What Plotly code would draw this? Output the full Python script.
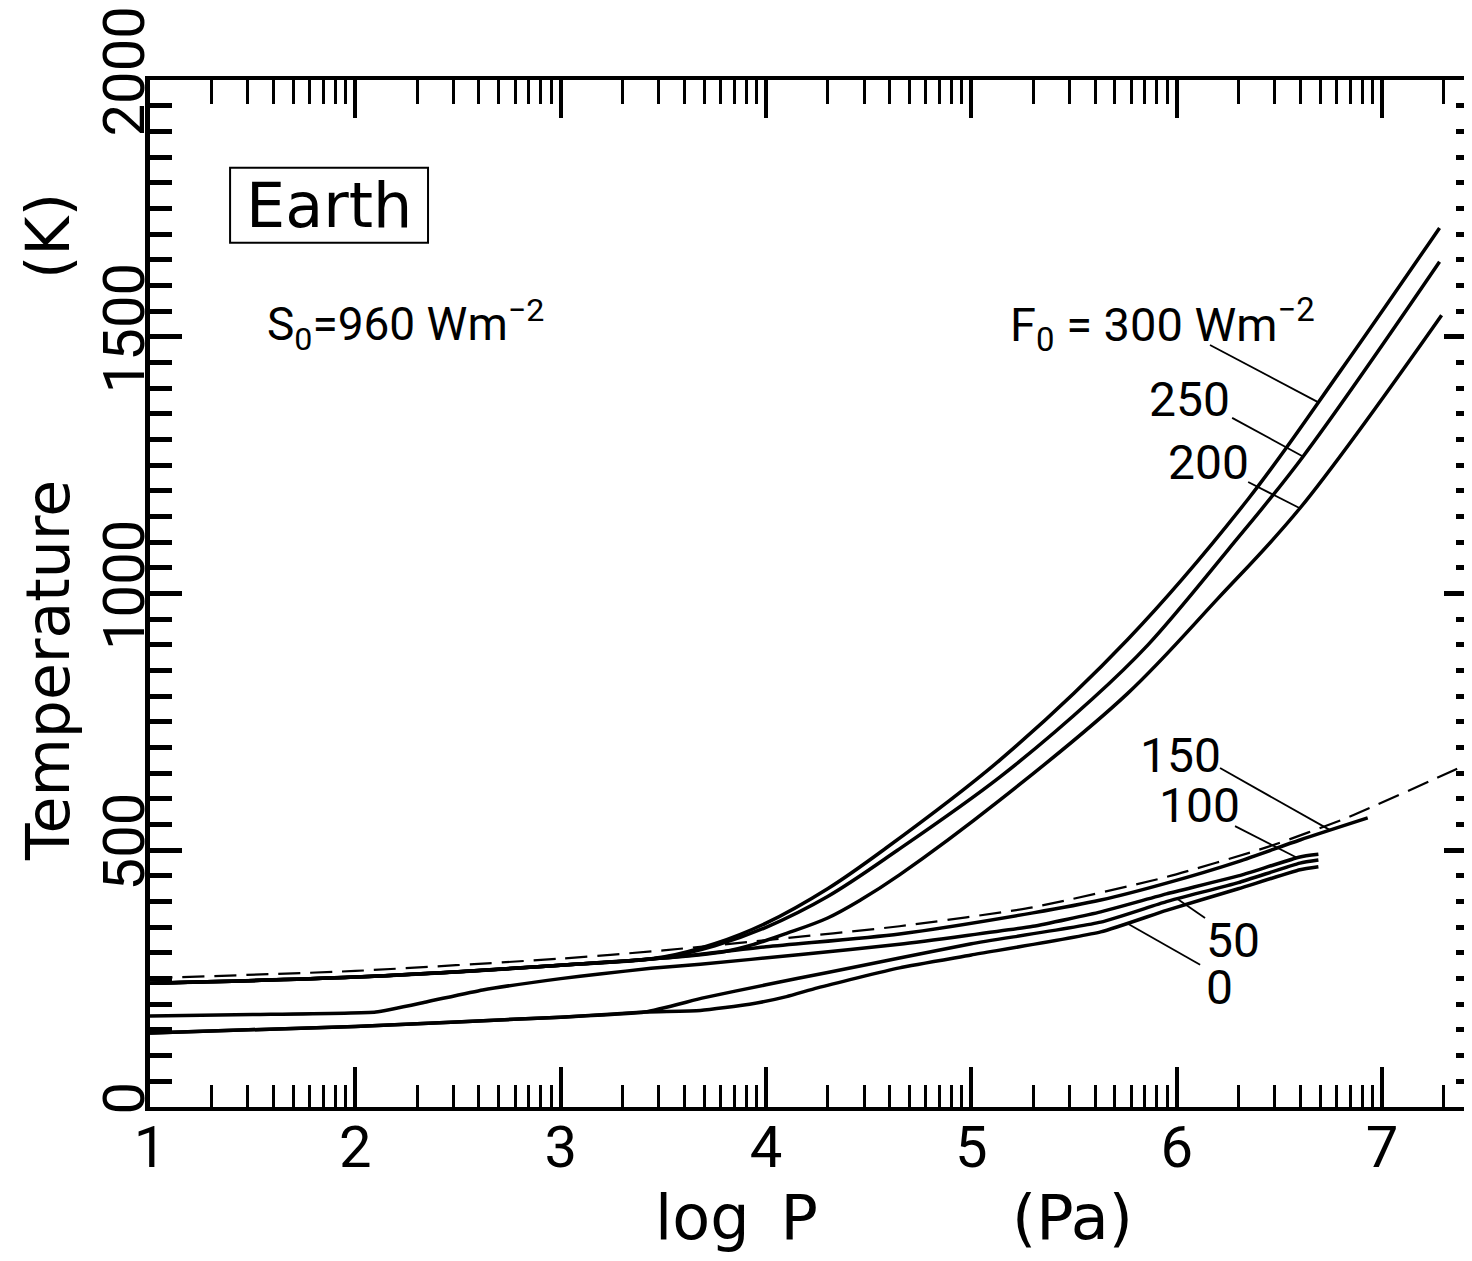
import numpy as np
import plotly.graph_objects as go

# ---------------- data (log P [Pa], T [K]) ----------------
logp_dash = [1.0, 2.0, 3.0, 3.5, 4.0, 4.65, 5.3, 5.95, 6.44, 6.84, 7.35, 7.44]
t_dash = [251, 265, 289, 305, 325, 352, 389, 448, 506, 565, 656, 672]

logp_300 = [1.0, 2.0, 3.0, 3.5, 3.75, 4.0, 4.3, 4.57, 5.14, 5.76, 6.35, 6.8, 7.28]
t_300 = [241, 253, 276, 292, 318, 358, 425, 500, 676, 910, 1185, 1435, 1712]

logp_250 = [1.0, 2.0, 3.0, 3.5, 3.75, 4.0, 4.3, 4.64, 5.14, 5.59, 5.86, 6.25, 6.61, 7.28]
t_250 = [241, 253, 276, 291, 314, 350, 410, 500, 643, 795, 900, 1085, 1264, 1646]

logp_200 = [1.0, 2.0, 3.0, 3.5, 3.8, 3.95, 4.1, 4.3, 4.46, 4.65, 5.14, 5.76, 6.2, 6.6, 7.29]
t_200 = [241, 253, 276, 290, 303, 318, 338, 368, 403, 452, 598, 805, 990, 1166, 1542]

logp_150 = [1.0, 2.0, 3.0, 3.5, 4.0, 4.65, 5.3, 5.63, 5.95, 6.3, 6.6, 6.93]
t_150 = [241, 253, 276, 290, 312, 337, 378, 403, 436, 478, 520, 563]

logp_100 = [1.0, 1.5, 2.1, 2.35, 2.62, 3.0, 3.19, 3.44, 3.68, 4.17, 4.65, 5.3, 5.63, 5.95, 6.3, 6.6, 6.69]
t_100 = [177, 180, 185, 205, 228, 250, 259, 270, 278, 297, 317, 352, 380, 415, 450, 487, 492]

logp_50 = [1.0, 2.0, 3.0, 3.41, 3.7, 4.0, 4.3, 4.65, 5.0, 5.63, 5.95, 6.3, 6.6, 6.69]
t_50 = [144, 157, 175, 185, 213, 238, 262, 290, 318, 360, 400, 437, 475, 481]

logp_0 = [1.0, 2.0, 3.0, 3.41, 3.68, 3.92, 4.1, 4.25, 4.65, 5.0, 5.63, 5.95, 6.3, 6.6, 6.69]
t_0 = [144, 157, 175, 185, 188, 200, 215, 232, 271, 296, 341, 383, 425, 462, 468]

x_major = [1, 2, 3, 4, 5, 6, 7]
x_labels = ["1", "2", "3", "4", "5", "6", "7"]
y_major = [0, 500, 1000, 1500, 2000]
y_labels = ["0", "500", "1000", "1500", "2000"]

X_RANGE = [1.0, 7.438]
Y_RANGE = [0, 2000]

minor_x = [d + np.log10(k) for d in range(1, 8) for k in range(2, 10) if d + np.log10(k) < X_RANGE[1]]

curves = {
    "300": (logp_300, t_300),
    "250": (logp_250, t_250),
    "200": (logp_200, t_200),
    "150": (logp_150, t_150),
    "100": (logp_100, t_100),
    "50": (logp_50, t_50),
    "0": (logp_0, t_0),
}
smooth = {"300": 1.0, "250": 1.0, "200": 1.0, "150": 0.7, "100": 0.4, "50": 0.5, "0": 0.5}

NUM_FONT = "Roboto"
TXT_FONT = "DejaVu Sans"

fig = go.Figure()

fig.add_trace(go.Scatter(x=logp_dash, y=t_dash, mode="lines",
                         line=dict(color="black", width=2.2, dash="22px,10px",
                                   shape="spline", smoothing=0.6),
                         hoverinfo="skip"))
for name, (xs, ys) in curves.items():
    fig.add_trace(go.Scatter(x=xs, y=ys, mode="lines",
                             line=dict(color="black", width=3.5, shape="spline",
                                       smoothing=smooth[name]),
                             name=name, hoverinfo="skip"))

# dummy trace for mirrored axes
fig.add_trace(go.Scatter(x=[X_RANGE[0]], y=[Y_RANGE[0]], xaxis="x2", yaxis="y2",
                         mode="markers", marker=dict(opacity=0), hoverinfo="skip"))

# ---------------- labels with leader lines ----------------
label_pos = {
    "250": (6.060, 1377),
    "200": (6.157, 1256),
    "150": (6.016, 685),
    "100": (6.109, 588),
    "50": (6.274, 325),
    "0": (6.206, 232),
}
leader = {  # (start logP, start T, logP on curve)
    "300": (6.162, 1484, 6.688),
    "250": (6.270, 1342, 6.615),
    "200": (6.348, 1217, 6.600),
    "150": (6.211, 660, 6.747),
    "100": (6.284, 547, 6.586),
    "50": (6.138, 368, 6.002),
    "0": (6.114, 277, 5.758),
}

annotations = []
for name, (lx, ly) in label_pos.items():
    annotations.append(dict(x=lx, y=ly, xref="x", yref="y", text=name, showarrow=False,
                            xanchor="center", yanchor="middle",
                            font=dict(family=NUM_FONT, size=48, color="black")))

shapes = []
for name, (sx, sy, cx) in leader.items():
    xs, ys = curves[name]
    cy = float(np.interp(cx, xs, ys))
    shapes.append(dict(type="line", x0=sx, y0=sy, x1=cx, y1=cy, xref="x", yref="y",
                       line=dict(color="black", width=1.8)))

# box around "Earth"
shapes.append(dict(type="rect", x0=1.390, x1=2.354, y0=1683, y1=1829, xref="x", yref="y",
                   line=dict(color="black", width=2)))

annotations += [
    dict(x=1.872, y=1756, xref="x", yref="y", text="Earth", showarrow=False,
         xanchor="center", yanchor="middle",
         font=dict(family=TXT_FONT, size=62, color="black")),
    dict(x=1.56, y=1523, xref="x", yref="y", xanchor="left", yanchor="middle", showarrow=False,
         text="S<sub>0</sub>=960 Wm<sup>−2</sup>",
         font=dict(family=NUM_FONT, size=46, color="black")),
    dict(x=5.179, y=1523, xref="x", yref="y", xanchor="left", yanchor="middle", showarrow=False,
         text="F<sub>0</sub> = 300 Wm<sup>−2</sup>",
         font=dict(family=NUM_FONT, size=47, color="black")),
    dict(x=0.444, y=-0.108, xref="paper", yref="paper", text="log\u2002P", showarrow=False,
         xanchor="center", yanchor="middle",
         font=dict(family=TXT_FONT, size=62, color="black")),
    dict(x=0.698, y=-0.108, xref="paper", yref="paper", text="(Pa)", showarrow=False,
         xanchor="center", yanchor="middle",
         font=dict(family=TXT_FONT, size=62, color="black")),
    dict(x=-0.0772, y=0.4255, xref="paper", yref="paper", text="Temperature", textangle=-90,
         xanchor="center", yanchor="middle",
         showarrow=False, font=dict(family=TXT_FONT, size=60, color="black")),
    dict(x=-0.0772, y=0.848, xref="paper", yref="paper", text="(K)", textangle=-90,
         xanchor="center", yanchor="middle",
         showarrow=False, font=dict(family=TXT_FONT, size=60, color="black")),
]

axis_common = dict(showgrid=False, zeroline=False, linecolor="black", ticks="inside",
                   tickcolor="black", automargin=False)

fig.update_layout(
    width=1464, height=1245,
    margin=dict(l=142, r=0, t=72, b=146, pad=0),
    paper_bgcolor="white", plot_bgcolor="white",
    showlegend=False,
    annotations=annotations,
    shapes=shapes,
    xaxis=dict(range=X_RANGE, tickmode="array", tickvals=x_major, ticktext=x_labels,
               showline=True, linewidth=4, ticklen=40, tickwidth=4,
               ticklabelstandoff=-14, ticklabeloverflow="allow",
               tickfont=dict(family=NUM_FONT, size=58, color="black"),
               minor=dict(tickmode="array", tickvals=minor_x, ticks="inside", ticklen=22,
                          tickwidth=3, tickcolor="black", showgrid=False),
               **axis_common),
    xaxis2=dict(range=X_RANGE, overlaying="x", side="top", anchor="y2",
                tickmode="array", tickvals=x_major, showticklabels=False,
                showline=True, linewidth=4, ticklen=38, tickwidth=4,
                minor=dict(tickmode="array", tickvals=minor_x, ticks="inside", ticklen=24,
                           tickwidth=3, tickcolor="black", showgrid=False),
                **axis_common),
    yaxis=dict(range=Y_RANGE, tickmode="array", tickvals=y_major, ticktext=y_labels,
               showline=True, linewidth=5, ticklen=32, tickwidth=5, tickangle=-90,
               ticklabelstandoff=-22, ticklabeloverflow="allow",
               tickfont=dict(family=NUM_FONT, size=58, color="black"),
               minor=dict(tickmode="linear", tick0=0, dtick=50, ticks="inside", ticklen=22,
                          tickwidth=5, tickcolor="black", showgrid=False),
               **axis_common),
    yaxis2=dict(range=Y_RANGE, overlaying="y", side="right", anchor="x2",
                tickmode="array", tickvals=y_major, showticklabels=False,
                showline=False, ticklen=28, tickwidth=5,
                minor=dict(tickmode="linear", tick0=0, dtick=50, ticks="inside", ticklen=16,
                           tickwidth=5, tickcolor="black", showgrid=False),
                **axis_common),
)

fig.write_html("out.html")
